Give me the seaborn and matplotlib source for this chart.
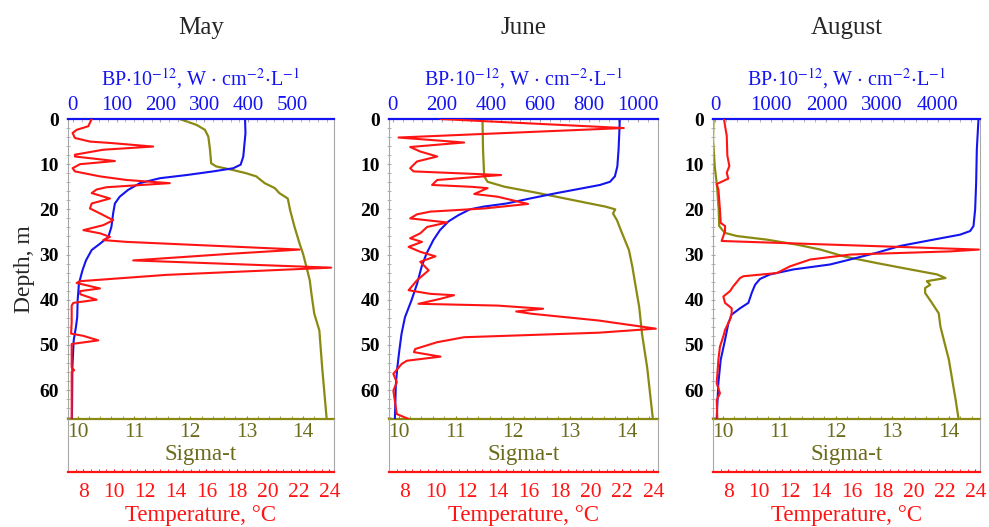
import numpy as np
import matplotlib.pyplot as plt
import seaborn as sns
from matplotlib.ticker import MultipleLocator

sns.set_style('white')
plt.rcParams['font.family'] = ['Liberation Serif', 'DejaVu Serif']
plt.rcParams['mathtext.fontset'] = 'stix'

RED = '#ff1414'
BLUE = '#1414f0'
OLIVE = '#8a8a12'
OLIVE_TXT = '#6b6b1c'
GREY = '#a8a8a8'

months = ['May', 'June', 'August']

# ---- May ----
may_bp_depth = [0, 3.1, 8.3, 10.1, 10.9, 11.6, 12.4, 13.1, 14.2, 15.7, 17.2, 18.7, 20.9, 23.9,
                26.1, 27.6, 29.0, 31.3, 33.5, 36.4, 40.1, 43.9, 46.1, 49.0, 55.0, 66.4]
may_bp = [393, 394, 389, 383, 366, 320, 260, 199, 153, 126, 107, 96, 92, 88,
          81, 62, 43, 30, 22, 14, 11, 10, 7, 2, -1, -2]
may_sig_depth = [0, 1.3, 2.4, 3.9, 6.8, 9.8, 10.5, 11.3, 12.0, 12.7, 14.2, 15.3, 16.4, 17.6,
                 20.1, 23.9, 27.6, 28.7, 29.8, 32.7, 35.7, 38.7, 43.1, 46.8, 55.0, 66.4]
may_sig = [11.81, 12.11, 12.26, 12.32, 12.35, 12.37, 12.46, 12.76, 12.99, 13.17, 13.32, 13.50,
           13.58, 13.73, 13.77, 13.85, 13.94, 13.97, 14.00, 14.06, 14.12, 14.15, 14.20, 14.29,
           14.34, 14.42]
may_t_depth = [0, 1.6, 2.4, 3.1, 4.2, 5.0, 5.3, 6.1, 6.8, 7.9, 8.3, 9.3, 10.0, 10.9, 11.6, 12.7,
               13.5, 14.2, 15.1, 15.6, 16.4, 17.6, 18.7, 19.8, 20.9, 22.4, 23.5, 24.6, 25.3, 26.1,
               26.8, 27.2, 28.9, 29.8, 31.3, 32.9, 34.5, 35.9, 36.3, 37.5, 38.1, 38.8, 40.0, 40.7,
               41.3, 45.0, 47.5, 48.0, 49.0, 49.8, 50.5, 55.0, 55.6, 56.0, 66.4]
may_t = [8.54, 8.32, 7.56, 7.30, 7.45, 8.43, 9.73, 12.54, 9.29, 7.45, 7.45, 10.05, 7.78, 7.30,
         7.45, 9.08, 10.81, 13.62, 9.51, 8.86, 8.54, 9.73, 8.54, 8.43, 9.08, 9.94, 9.29, 8.0,
         9.08, 9.73, 9.29, 10.81, 22.06, 17.7, 11.24, 24.12, 13.4, 7.78, 7.56, 9.08, 7.78, 7.8,
         8.86, 7.35, 7.24, 7.24, 7.20, 8.0, 8.97, 7.24, 7.24, 7.24, 7.40, 7.24, 7.24]

# ---- June ----
jun_bp_depth = [0, 3.1, 6.8, 10.5, 12.7, 13.9, 14.6, 15.3, 16.4, 17.6, 18.7, 19.4, 20.0, 21.3,
                22.7, 24.6, 26.8, 29.8, 32.7, 36.4, 40.1, 43.9, 47.6, 51.3, 55.0, 58.7, 66.4]
jun_bp = [926, 924, 921, 916, 906, 886, 845, 777, 668, 559, 464, 369, 314, 267,
          226, 192, 165, 137, 117, 99, 76, 49, 35, 26, 18, 12, 8]
jun_sig_depth = [0, 6.8, 12.7, 13.9, 15.0, 16.4, 17.9, 19.4, 20.0, 20.9, 22.4, 25.3, 29.0, 32.7,
                 37.2, 41.6, 47.6, 55.0, 66.4]
jun_sig = [11.47, 11.48, 11.50, 11.56, 11.86, 12.45, 13.04, 13.63, 13.80, 13.76, 13.83, 13.92,
           14.04, 14.10, 14.16, 14.22, 14.27, 14.36, 14.46]
jun_t_depth = [0, 2.0, 4.1, 5.2, 6.2, 7.2, 8.3, 9.4, 10.9, 11.6, 12.4, 13.5, 14.6, 15.0, 15.3,
               16.6, 17.2, 18.8, 19.8, 20.5, 21.1, 22.0, 22.9, 23.9, 25.3, 26.4, 27.2, 28.3, 29.4,
               30.4, 31.6, 33.5, 35.7, 37.9, 38.7, 39.0, 39.8, 40.9, 41.3, 42.0, 42.6, 43.1, 44.6,
               46.4, 47.3, 48.3, 49.4, 50.9, 51.6, 52.6, 53.5, 54.2, 56.4, 58.3, 60.1, 65.3, 66.4]
jun_t = [10.31, 22.1, 7.61, 11.83, 8.36, 9.01, 10.10, 8.80, 8.36, 8.58, 14.21, 10.10, 9.77, 12.26,
         13.34, 12.48, 13.99, 15.94, 13.13, 9.66, 8.80, 8.36, 10.74, 9.45, 9.01, 8.36, 9.12, 8.26,
         9.01, 9.99, 9.01, 9.55, 8.80, 8.26, 9.66, 11.18, 10.31, 8.90, 13.99, 16.91, 15.18, 16.16,
         20.48, 24.16, 20.48, 11.83, 10.10, 8.69, 8.60, 10.31, 8.15, 7.82, 7.28, 7.50, 7.28, 7.50,
         8.26]

# ---- August ----
aug_bp_depth = [0, 6.7, 14.0, 20.0, 23.7, 24.8, 25.6, 26.7, 28.1, 29.6, 31.1, 32.2, 33.3, 34.4,
                35.4, 36.7, 38.5, 40.7, 41.9, 43.3, 45.2, 48.9, 53.3, 58.5, 66.3]
aug_bp = [4731, 4701, 4689, 4671, 4641, 4581, 4401, 3922, 3323, 2904, 2425, 2066, 1407, 988,
          808, 719, 659, 599, 449, 299, 240, 180, 102, 60, 30]
aug_sig_depth = [0, 4.4, 10.4, 14.8, 20.0, 23.7, 25.2, 25.9, 26.7, 27.8, 28.9, 30.4, 31.9, 33.3,
                 34.4, 35.2, 35.9, 36.7, 37.4, 38.5, 40.7, 43.0, 45.9, 48.9, 53.3, 57.8, 62.2, 66.3]
aug_sig = [9.84, 9.83, 9.86, 9.90, 9.93, 9.94, 10.04, 10.25, 10.78, 11.31, 11.73, 12.14, 12.73,
           13.32, 13.79, 13.94, 13.61, 13.67, 13.58, 13.58, 13.70, 13.82, 13.85, 13.91, 14.00,
           14.06, 14.12, 14.17]
aug_t_depth = [0, 1.5, 3.7, 8.1, 10.4, 11.9, 13.2, 14.4, 15.6, 20.0, 23.0, 23.7, 24.8, 27.0,
               28.9, 29.3, 30.0, 31.1, 32.6, 34.1, 34.8, 35.2, 37.0, 38.1, 39.3, 40.7, 41.9, 43.0,
               44.4, 46.7, 48.1, 50.4, 53.3, 58.5, 60.7, 62.2, 66.3]
aug_t = [7.71, 7.78, 7.89, 7.93, 8.06, 7.89, 7.99, 7.24, 7.35, 7.45, 7.50, 7.78, 7.78, 7.56,
         24.23, 22.39, 15.9, 13.3, 12.0, 11.13, 8.97, 8.75, 8.32, 8.10, 7.67, 7.78, 8.21, 8.21,
         8.10, 7.78, 7.67, 7.45, 7.35, 7.24, 7.45, 7.24, 7.28]

bp_ticks = [np.arange(0, 501, 100), np.arange(0, 1001, 200), np.arange(0, 4001, 1000)]
bp_lims = [(-11, 596), (-16, 1082), (-36, 4758)]
sig_ticks = [10, 11, 12, 13, 14]
sig_lim = (9.83, 14.55)
temp_ticks = np.arange(8, 25, 2)
temp_lim = (7.0, 24.3)
depth_ticks = np.arange(0, 61, 10)

data = [
    (may_bp_depth, may_bp, may_sig_depth, may_sig, may_t_depth, may_t),
    (jun_bp_depth, jun_bp, jun_sig_depth, jun_sig, jun_t_depth, jun_t),
    (aug_bp_depth, aug_bp, aug_sig_depth, aug_sig, aug_t_depth, aug_t),
]

W, H = 989, 527
fig = plt.figure(figsize=(W / 100, H / 100), dpi=100)
lefts = [68, 389, 713]
rights = [334, 658, 980]
top_px, bot_px, box_px = 119, 419, 472

bp_label = r'BP$\cdot$10$^{-12}$, W$\,\cdot\,$cm$^{-2}$$\cdot$L$^{-1}$'

for i, (bd, bv, sd, sv, td, tv) in enumerate(data):
    l = lefts[i] / W
    w = (rights[i] - lefts[i]) / W
    ax = fig.add_axes([l, 1 - bot_px / H, w, (bot_px - top_px) / H])

    # sigma-t (bottom axis)
    sns.lineplot(x=sv, y=sd, ax=ax, color=OLIVE, lw=1.6, sort=False, estimator=None, orient='y')
    ax.set_xlim(sig_lim)
    ax.set_ylim(66.4, 0)
    ax.set_xticks(sig_ticks)
    ax.xaxis.set_minor_locator(MultipleLocator(0.2))
    ax.tick_params(axis='x', which='both', colors=OLIVE, labelcolor=OLIVE_TXT, labelsize=15.5,
                   direction='in', length=2, pad=3, bottom=True)
    ax.set_xlabel('Sigma-t', color=OLIVE_TXT, fontsize=16.5, labelpad=1)
    ax.set_yticks(depth_ticks)
    ax.yaxis.set_minor_locator(MultipleLocator(2))
    ax.tick_params(axis='y', which='both', colors=GREY, labelcolor='black', labelsize=14,
                   direction='inout', length=3, pad=5, left=True)
    for lab in ax.get_yticklabels():
        lab.set_fontweight('bold')
    if i == 0:
        ax.set_ylabel('Depth, m', fontsize=17, labelpad=3)
    else:
        ax.set_ylabel('')
    ax.spines['left'].set_color(GREY)
    ax.spines['right'].set_color(GREY)
    ax.spines['bottom'].set_color(OLIVE)
    ax.spines['bottom'].set_linewidth(1.6)
    ax.spines['top'].set_visible(False)

    # BP (top axis)
    ax_bp = ax.twiny()
    sns.lineplot(x=bv, y=bd, ax=ax_bp, color=BLUE, lw=1.5, sort=False, estimator=None, orient='y')
    ax_bp.set_xlim(bp_lims[i])
    ax_bp.set_xticks(bp_ticks[i])
    ax_bp.xaxis.set_minor_locator(MultipleLocator(bp_ticks[i][1] / 5))
    ax_bp.tick_params(axis='x', which='both', colors=GREY, labelcolor=BLUE, labelsize=15,
                      direction='in', length=2, pad=3, top=True, bottom=False)
    ax_bp.set_xlabel(bp_label, color=BLUE, fontsize=14.5, labelpad=8)
    ax_bp.xaxis.set_label_position('top')
    ax_bp.spines['top'].set_color(BLUE)
    ax_bp.spines['top'].set_linewidth(1.6)
    for s in ['left', 'right', 'bottom']:
        ax_bp.spines[s].set_visible(False)

    # temperature (drawn on its own x scale, ticks on the box below)
    ax_t = ax.twiny()
    sns.lineplot(x=tv, y=td, ax=ax_t, color=RED, lw=1.5, sort=False, estimator=None, orient='y')
    ax_t.set_xlim(temp_lim)
    ax_t.tick_params(axis='x', which='both', top=False, bottom=False,
                     labeltop=False, labelbottom=False)
    ax_t.set_xlabel('')
    for s in ax_t.spines.values():
        s.set_visible(False)
    ax.set_ylim(66.4, 0)

    box = fig.add_axes([l, 1 - box_px / H, w, (box_px - bot_px) / H])
    box.patch.set_alpha(0)
    box.set_xlim(temp_lim)
    box.set_ylim(0, 1)
    box.set_yticks([])
    box.set_xticks(temp_ticks)
    box.xaxis.set_minor_locator(MultipleLocator(0.5))
    box.tick_params(axis='x', which='both', colors=RED, labelcolor=RED, labelsize=15.5,
                    direction='in', length=2, pad=8, bottom=True)
    box.set_xlabel('Temperature, °C', color=RED, fontsize=16.5, labelpad=2)
    box.spines['top'].set_visible(False)
    box.spines['left'].set_color(GREY)
    box.spines['right'].set_color(GREY)
    box.spines['bottom'].set_color(RED)
    box.spines['bottom'].set_linewidth(1.6)

    fig.text(l + w / 2, 1 - 28 / H, months[i], ha='center', va='center', fontsize=18)

fig.savefig('out.png', dpi=100)
